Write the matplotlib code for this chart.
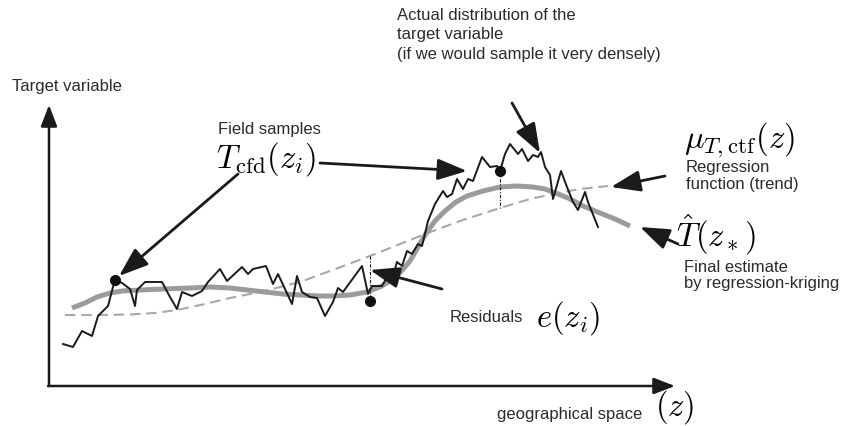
import matplotlib
matplotlib.use("Agg")
import matplotlib.pyplot as plt

plt.rcParams['font.family'] = ['Liberation Sans', 'DejaVu Sans']
plt.rcParams['mathtext.fontset'] = 'cm'

# Sketch coordinates: z runs left -> right, value measured downward from the top edge
# Densely sampled target variable (jagged black line)
actual_z = [63, 73, 82, 92, 98, 108, 113, 115, 122, 130, 135, 137, 145, 162, 170, 177,
            182, 192, 202, 208, 220, 227, 242, 248, 253, 266, 273, 278, 285, 292, 297,
            302, 310, 317, 325, 333, 338, 343, 362, 368, 372, 382, 387, 392, 397, 402,
            407, 412, 418, 422, 428, 435, 443, 447, 452, 457, 463, 468, 473, 482, 490,
            497, 500, 505, 510, 518, 522, 528, 533, 538, 541, 545, 550, 553, 557, 561,
            567, 573, 578, 585, 588, 598]
actual_v = [345, 348, 332, 337, 317, 307, 288, 281, 284, 290, 307, 291, 283, 283, 298, 310,
            293, 297, 292, 283, 270, 282, 268, 275, 270, 267, 285, 275, 290, 305, 277,
            293, 298, 299, 317, 303, 289, 293, 267, 295, 287, 287, 278, 280, 263, 267,
            252, 255, 245, 247, 222, 205, 192, 198, 195, 180, 190, 180, 182, 158, 168,
            167, 172, 155, 145, 155, 150, 162, 156, 158, 153, 168, 176, 200, 186, 172,
            188, 203, 211, 193, 203, 228]

# Regression-kriging estimate (thick grey curve)
rk_z = [72, 85, 97, 110, 122, 140, 163, 190, 210, 230, 247, 265, 283, 300, 318, 333, 350,
        367, 382, 397, 410, 425, 435, 445, 456, 467, 483, 500, 517, 533, 545, 553, 568,
        583, 600, 615, 630]
rk_v = [309, 304, 298, 294, 292, 291, 290, 289, 288, 289, 291, 293, 295, 296, 297, 297, 296,
        293, 287, 277, 262, 236, 222, 212, 203, 197, 192, 188, 187, 188, 190, 193, 199,
        207, 214, 220, 227]

# Regression function / trend (dashed grey)
trend_z = [65, 100, 130, 155, 177, 205, 230, 260, 300, 330, 370, 400, 425, 460, 500, 530,
           553, 580, 608]
trend_v = [316, 316, 315.5, 314, 311, 305, 299, 293, 283, 272, 257, 245, 235, 222, 209, 200,
           195, 190, 187]

# Field samples and their residual against the trend
sample_z = [115, 370, 500]
sample_v = [281, 302, 172]
resid_z = [370, 500]
resid_top = [257, 172]
resid_bot = [302, 210]

fig = plt.figure(figsize=(8.44, 4.27), dpi=100)
ax = fig.add_axes([0, 0, 1, 1])
ax.set_xlim(0, 844)
ax.set_ylim(427, 0)
ax.axis('off')

ink = '#1a1a1a'
txt = '#2b2b2b'
grey = '#9b9b9b'

ax.plot(trend_z, trend_v, color='#a8a8a8', lw=1.5, ls=(0, (5, 2.8)), zorder=2)
ax.plot(rk_z, rk_v, color=grey, lw=3.6, solid_capstyle='butt', zorder=3)
ax.plot(actual_z, actual_v, color=ink, lw=1.4, zorder=4)
for z, a, b in zip(resid_z, resid_top, resid_bot):
    ax.plot([z, z], [a, b], color=ink, lw=0.8, ls=(0, (3, 1.5, 1, 1.5)), zorder=4)
ax.plot(sample_z, sample_v, 'o', color='#111111', ms=7, zorder=5)

# Axes of the sketch
axis_kw = dict(arrowstyle='-|>,head_length=1.3,head_width=0.5', color=ink, lw=1.8,
               mutation_scale=10, shrinkA=0, shrinkB=0)
ax.annotate('', xy=(49, 106), xytext=(49, 387), arrowprops=axis_kw)
ax.annotate('', xy=(675, 387), xytext=(48, 387), arrowprops=axis_kw)

# Pointer arrows
ptr_kw = dict(arrowstyle='-|>,head_length=1.8,head_width=0.65', color=ink, lw=2.0,
              mutation_scale=10, shrinkA=0, shrinkB=0)
pointers = [((238, 175), (119, 277)),
            ((320, 164), (467, 172)),
            ((512, 104), (540, 154)),
            ((665, 177), (611, 188)),
            ((678, 245), (640, 228)),
            ((442, 290), (370, 271))]
for start, tip in pointers:
    ax.annotate('', xy=tip, xytext=start, arrowprops=ptr_kw)

fs = 12
ax.text(12, 87, 'Target variable', fontsize=fs, color=txt, va='center', ha='left')
ax.text(397, 16, 'Actual distribution of the', fontsize=fs, color=txt, va='center')
ax.text(397, 35, 'target variable', fontsize=fs, color=txt, va='center')
ax.text(397, 54, '(if we would sample it very densely)', fontsize=fs, color=txt, va='center')
ax.text(218, 130, 'Field samples', fontsize=fs, color=txt, va='center')
ax.text(686, 168, 'Regression', fontsize=fs, color=txt, va='center')
ax.text(686, 185, 'function (trend)', fontsize=fs, color=txt, va='center')
ax.text(684, 268, 'Final estimate', fontsize=fs, color=txt, va='center')
ax.text(684, 284, 'by regression-kriging', fontsize=fs, color=txt, va='center')
ax.text(450, 318, 'Residuals', fontsize=fs, color=txt, va='center')
ax.text(497, 415, 'geographical space', fontsize=fs, color=txt, va='center')

mfs = 23.5
ax.text(216, 168, r'$T_{\mathrm{cfd}}(z_i)$', fontsize=mfs, color='black', va='baseline')
ax.text(684, 148, r'$\mu_{T,\mathrm{ctf}}(z)$', fontsize=mfs, color='black', va='baseline')
ax.text(676, 247, r'$\hat{T}(z_*)$', fontsize=mfs, color='black', va='baseline')
ax.text(536, 327, r'$e(z_i)$', fontsize=mfs, color='black', va='baseline')
ax.text(655, 416, r'$(z)$', fontsize=mfs, color='black', va='baseline')

fig.savefig('out.png', dpi=100, facecolor='white')
